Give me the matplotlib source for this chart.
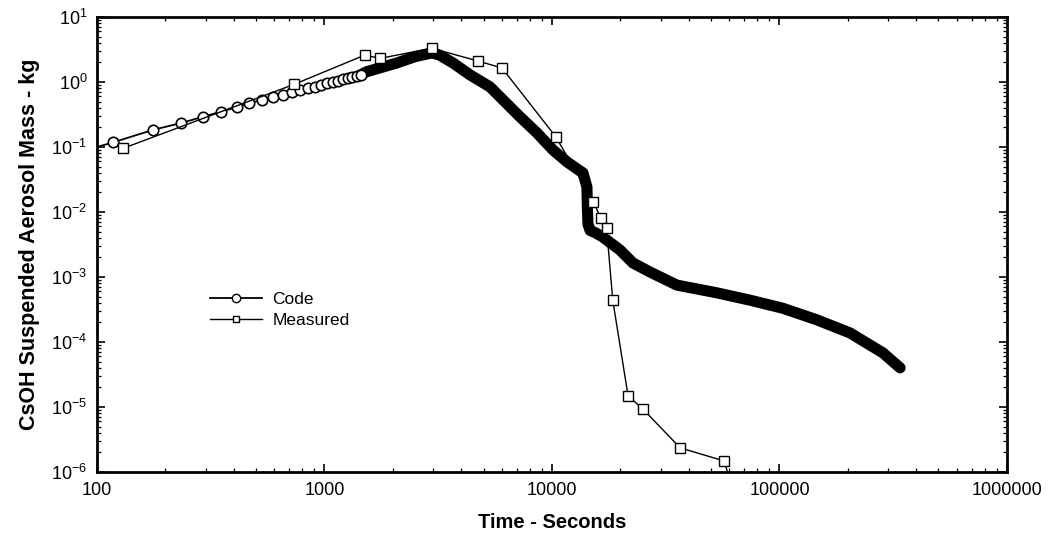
import matplotlib
matplotlib.use("Agg")
import matplotlib.pyplot as plt
from matplotlib.ticker import (LogLocator, FixedLocator, FixedFormatter,
                               NullFormatter, LogFormatterSciNotation)

plt.rcParams['font.family'] = ['Liberation Sans', 'DejaVu Sans']
plt.rcParams['mathtext.default'] = 'regular'

# Code: early samples (individual circles visible)
code_t_early = [100, 118, 176, 233, 293, 351, 411, 467, 529, 592, 655, 717, 780,
                849, 905, 965, 1025, 1085, 1145, 1205, 1265, 1325, 1385, 1445]
code_m_early = [0.1, 0.118, 0.183, 0.232, 0.292, 0.349, 0.408, 0.47, 0.53, 0.58,
                0.63, 0.69, 0.75, 0.80, 0.85, 0.90, 0.95, 1.0, 1.05, 1.1, 1.15,
                1.2, 1.25, 1.3]

# Code: dense part (overlapping circles form a solid band)
code_t_dense = [1445, 1535, 2080, 2500, 2970, 3200, 3670, 4370, 5340, 6090, 7240,
                8600, 10100, 11640, 13000, 13680, 14250, 14300, 14400, 14700,
                15500, 16750, 19900, 22700, 27000, 35400, 53100, 74100, 103500,
                146000, 204000, 285000, 339000]
code_m_dense = [1.3, 1.44, 1.96, 2.45, 2.8, 2.6, 1.96, 1.28, 0.84, 0.53, 0.29,
                0.164, 0.09, 0.059, 0.045, 0.04, 0.024, 0.012, 0.0065, 0.0052,
                0.0048, 0.0041, 0.0026, 0.00164, 0.00119, 7.5e-4, 5.7e-4, 4.4e-4,
                3.3e-4, 2.19e-4, 1.38e-4, 6.8e-5, 4.0e-5]

# Measured
meas_t = [130, 736, 1507, 1750, 2960, 4730, 6030, 10400, 15200, 16400, 17380,
          18500, 21600, 25100, 36600, 57000, 62000]
meas_m = [0.095, 0.92, 2.6, 2.3, 3.3, 2.1, 1.64, 0.143, 0.0144, 0.008, 0.0056,
          4.4e-4, 1.48e-5, 9.3e-6, 2.35e-6, 1.48e-6, 6e-7]

x_ticks = [100, 1000, 10000, 100000, 1000000]
x_labels = ['100', '1000', '10000', '100000', '1000000']
y_ticks = [1e-6, 1e-5, 1e-4, 1e-3, 1e-2, 1e-1, 1, 10]

fig = plt.figure(figsize=(10.52, 5.35), dpi=100)
ax = fig.add_axes([0.0922, 0.1178, 0.8650, 0.8505])

ax.plot(meas_t, meas_m, color='black', lw=1.0, marker='s', ms=6.5,
        mfc='white', mec='black', mew=1.0, zorder=3)
ax.plot(code_t_dense, code_m_dense, color='black', lw=8,
        solid_capstyle='round', solid_joinstyle='round', zorder=2)
ax.plot(code_t_early, code_m_early, color='black', lw=1.3, marker='o', ms=7.5,
        mfc='white', mec='black', mew=1.2, markevery=range(1, len(code_t_early)),
        zorder=2)

# legend handles
h_code, = ax.plot([], [], color='black', lw=1.3, marker='o', ms=6,
                  mfc='white', mec='black', mew=1.0, label='Code')
h_meas, = ax.plot([], [], color='black', lw=1.0, marker='s', ms=5,
                  mfc='white', mec='black', mew=1.0, label='Measured')

ax.set_xscale('log')
ax.set_yscale('log')
ax.set_xlim(100, 1e6)
ax.set_ylim(1e-6, 10)

ax.xaxis.set_major_locator(FixedLocator(x_ticks))
ax.xaxis.set_major_formatter(FixedFormatter(x_labels))
ax.xaxis.set_minor_locator(LogLocator(base=10, subs=range(2, 10), numticks=20))
ax.xaxis.set_minor_formatter(NullFormatter())
ax.yaxis.set_major_locator(FixedLocator(y_ticks))
ax.yaxis.set_major_formatter(LogFormatterSciNotation())
ax.yaxis.set_minor_locator(LogLocator(base=10, subs=range(2, 10), numticks=20))
ax.yaxis.set_minor_formatter(NullFormatter())

ax.tick_params(which='both', direction='in', top=True, right=True, labelsize=13)
ax.tick_params(which='major', length=6, width=1.2, pad=7)
ax.tick_params(which='minor', length=3, width=0.9)
for s in ax.spines.values():
    s.set_linewidth(2)

ax.set_xlabel('Time - Seconds', fontsize=14.5, fontweight='bold', labelpad=10)
ax.set_ylabel('CsOH Suspended Aerosol Mass - kg', fontsize=15.5,
              fontweight='bold', labelpad=8)

ax.legend(handles=[h_code, h_meas], loc='upper left', frameon=False,
          bbox_to_anchor=(0.107, 0.43), fontsize=12.5, handlelength=3.0,
          handletextpad=0.6, labelspacing=0.35)

fig.savefig('out.png', dpi=100)
